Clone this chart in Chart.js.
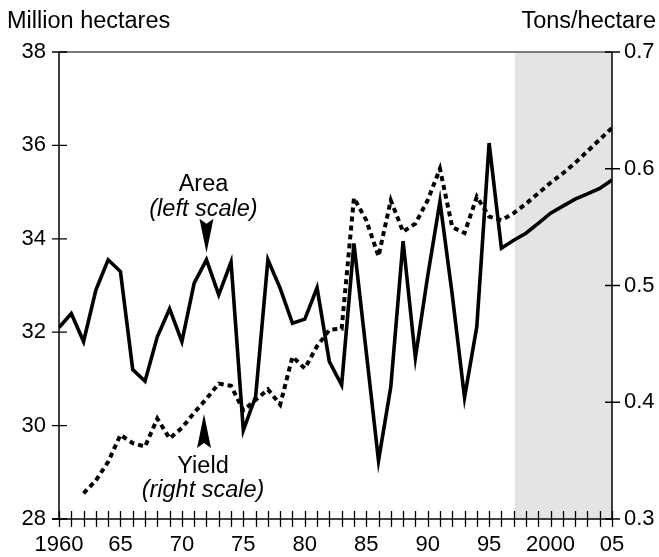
<!DOCTYPE html>
<html>
<head>
<meta charset="utf-8">
<script src="https://cdn.jsdelivr.net/npm/chart.js@4.4.1/dist/chart.umd.min.js"></script>
<style>
  html, body { margin: 0; padding: 0; background: #fff; }
  #wrap { width: 659px; height: 557px; }
</style>
</head>
<body>
<div id="wrap"><canvas id="chart" width="659" height="557"></canvas></div>
<script>
// area harvested, million hectares (left scale)
const areaYears = [1960, 1961, 1962, 1963, 1964, 1965, 1966, 1967, 1968, 1969,
  1970, 1971, 1972, 1973, 1974, 1975, 1976, 1977, 1978, 1979,
  1980, 1981, 1982, 1983, 1984, 1985, 1986, 1987, 1988, 1989,
  1990, 1991, 1992, 1993, 1994, 1995, 1996, 1997, 1998, 1999,
  2000, 2001, 2002, 2003, 2004, 2005];
const areaValues = [32.1, 32.4, 31.8, 32.9, 33.55, 33.3, 31.2, 30.95, 31.9, 32.5,
  31.8, 33.05, 33.55, 32.8, 33.5, 29.9, 30.62, 33.55, 32.94, 32.19,
  32.28, 32.95, 31.37, 30.87, 33.9, 31.58, 29.25, 30.83, 33.95, 31.45,
  33.2, 34.8, 32.8, 30.6, 32.12, 36.05, 33.8, 33.97, 34.12, 34.33,
  34.55, 34.7, 34.85, 34.96, 35.08, 35.26];

// yield, tons per hectare (right scale)
const yieldYears = [1962, 1963, 1964, 1965, 1966, 1967, 1968, 1969,
  1970, 1971, 1972, 1973, 1974, 1975, 1976, 1977, 1978, 1979,
  1980, 1981, 1982, 1983, 1984, 1985, 1986, 1987, 1988, 1989,
  1990, 1991, 1992, 1993, 1994, 1995, 1996, 1997, 1998, 1999,
  2000, 2001, 2002, 2003, 2004, 2005];
const yieldValues = [0.322, 0.333, 0.349, 0.372, 0.365, 0.362, 0.386, 0.369,
  0.378, 0.391, 0.403, 0.416, 0.414, 0.393, 0.402, 0.411, 0.398, 0.439,
  0.429, 0.448, 0.462, 0.463, 0.575, 0.556, 0.525, 0.573, 0.546, 0.553,
  0.573, 0.600, 0.550, 0.545, 0.576, 0.559, 0.556, 0.562, 0.570, 0.579,
  0.588, 0.596, 0.605, 0.615, 0.625, 0.635];

const xLabelYears = [1960, 1965, 1970, 1975, 1980, 1985, 1990, 1995, 2000, 2005];
const xLabelText = ['1960', '65', '70', '75', '80', '85', '90', '95', '2000', '05'];

const leftTitle = 'Million hectares';
const rightTitle = 'Tons/hectare';

// projection period (shaded)
const forecastFrom = 1997.1;
const forecastTo = 2005;

const FONT = '"Liberation Sans", Arial, Helvetica, sans-serif';
Chart.defaults.font.family = FONT;
Chart.defaults.color = '#000';

function arrowHead(ctx, x, tipY, down) {
  const s = down ? 1 : -1;
  ctx.beginPath();
  ctx.moveTo(x, tipY);
  ctx.lineTo(x - 7, tipY - s * 34);
  ctx.lineTo(x, tipY - s * 29);
  ctx.lineTo(x + 7, tipY - s * 34);
  ctx.closePath();
  ctx.fill();
}

const framePlugin = {
  id: 'frame',
  beforeDatasetsDraw(chart) {
    const { ctx, chartArea: a, scales: { x } } = chart;
    ctx.save();
    ctx.fillStyle = '#e4e4e4';
    const x0 = x.getPixelForValue(forecastFrom);
    const x1 = x.getPixelForValue(forecastTo);
    ctx.fillRect(x0, a.top, x1 - x0, a.bottom - a.top);
    ctx.restore();
  },
  afterDatasetsDraw(chart) {
    const { ctx, chartArea: a, scales: { x, y, y1 } } = chart;
    ctx.save();

    // top border
    ctx.strokeStyle = '#7a7a7a';
    ctx.lineWidth = 2;
    ctx.beginPath();
    ctx.moveTo(a.left, a.top);
    ctx.lineTo(a.right, a.top);
    ctx.stroke();

    // axis lines
    ctx.strokeStyle = '#000';
    ctx.lineWidth = 1.5;
    ctx.beginPath();
    ctx.moveTo(a.left, a.top);
    ctx.lineTo(a.left, a.bottom);
    ctx.moveTo(a.right, a.top);
    ctx.lineTo(a.right, a.bottom);
    ctx.moveTo(a.left - 7, a.bottom);
    ctx.lineTo(a.right, a.bottom);
    ctx.stroke();

    // crossing tick marks
    ctx.lineWidth = 1.3;
    ctx.beginPath();
    for (let yr = x.min; yr <= x.max; yr++) {
      const px = Math.round(x.getPixelForValue(yr)) + 0.5;
      ctx.moveTo(px, a.bottom - 8);
      ctx.lineTo(px, a.bottom + 8);
    }
    y.ticks.forEach(t => {
      const py = y.getPixelForValue(t.value);
      ctx.moveTo(a.left - 7, py);
      ctx.lineTo(a.left + 8, py);
    });
    y1.ticks.forEach(t => {
      const py = y1.getPixelForValue(t.value);
      ctx.moveTo(a.right - 7, py);
      ctx.lineTo(a.right + 8, py);
    });
    ctx.stroke();

    // axis titles
    ctx.fillStyle = '#000';
    ctx.font = '23.5px ' + FONT;
    ctx.textBaseline = 'alphabetic';
    ctx.textAlign = 'left';
    ctx.fillText(leftTitle, 7, 28);
    ctx.textAlign = 'right';
    ctx.fillText(rightTitle, 656, 28);

    // annotations
    ctx.textAlign = 'center';
    const ax = x.getPixelForValue(1972);
    const ay = y.getPixelForValue(33.7);
    arrowHead(ctx, ax, ay, true);
    ctx.font = '23.5px ' + FONT;
    ctx.fillText('Area', ax - 3, ay - 62);
    ctx.font = 'italic 23.5px ' + FONT;
    ctx.fillText('(left scale)', ax - 3, ay - 37);

    const bx = x.getPixelForValue(1971.8);
    const by = y1.getPixelForValue(0.39);
    arrowHead(ctx, bx, by, false);
    ctx.font = '23.5px ' + FONT;
    ctx.fillText('Yield', bx - 1, by + 59);
    ctx.font = 'italic 23.5px ' + FONT;
    ctx.fillText('(right scale)', bx - 1, by + 83);

    ctx.restore();
  }
};

const ctx = document.getElementById('chart').getContext('2d');
new Chart(ctx, {
  type: 'line',
  data: {
    datasets: [
      {
        label: 'Yield',
        data: yieldYears.map((yr, i) => ({ x: yr, y: yieldValues[i] })),
        yAxisID: 'y1',
        borderColor: '#000',
        borderWidth: 4,
        borderDash: [5, 4],
        borderCapStyle: 'butt',
        borderJoinStyle: 'miter',
        pointRadius: 0,
        tension: 0,
        fill: false
      },
      {
        label: 'Area',
        data: areaYears.map((yr, i) => ({ x: yr, y: areaValues[i] })),
        yAxisID: 'y',
        borderColor: '#000',
        borderWidth: 3.6,
        borderJoinStyle: 'miter',
        pointRadius: 0,
        tension: 0,
        fill: false
      }
    ]
  },
  options: {
    responsive: false,
    animation: false,
    devicePixelRatio: 1,
    layout: { padding: { top: 52, left: 0, right: 0, bottom: 0 } },
    plugins: {
      legend: { display: false },
      tooltip: { enabled: false }
    },
    scales: {
      x: {
        type: 'linear',
        min: 1960,
        max: 2005,
        afterBuildTicks: s => { s.ticks = xLabelYears.map(v => ({ value: v })); },
        afterFit: s => { s.height = 38; },
        ticks: {
          autoSkip: false,
          maxRotation: 0,
          padding: 13,
          font: { size: 22 },
          color: '#000',
          callback: v => xLabelText[xLabelYears.indexOf(v)]
        },
        grid: { display: false, drawTicks: false },
        border: { display: false }
      },
      y: {
        position: 'left',
        min: 28,
        max: 38,
        afterFit: s => { s.width = 59; },
        ticks: { stepSize: 2, padding: 13, font: { size: 22 }, color: '#000' },
        grid: { display: false, drawTicks: false },
        border: { display: false }
      },
      y1: {
        position: 'right',
        min: 0.3,
        max: 0.7,
        afterFit: s => { s.width = 47; },
        ticks: {
          stepSize: 0.1,
          padding: 12,
          font: { size: 22 },
          color: '#000',
          callback: v => v.toFixed(1)
        },
        grid: { display: false, drawTicks: false },
        border: { display: false }
      }
    }
  },
  plugins: [framePlugin]
});
</script>
</body>
</html>
